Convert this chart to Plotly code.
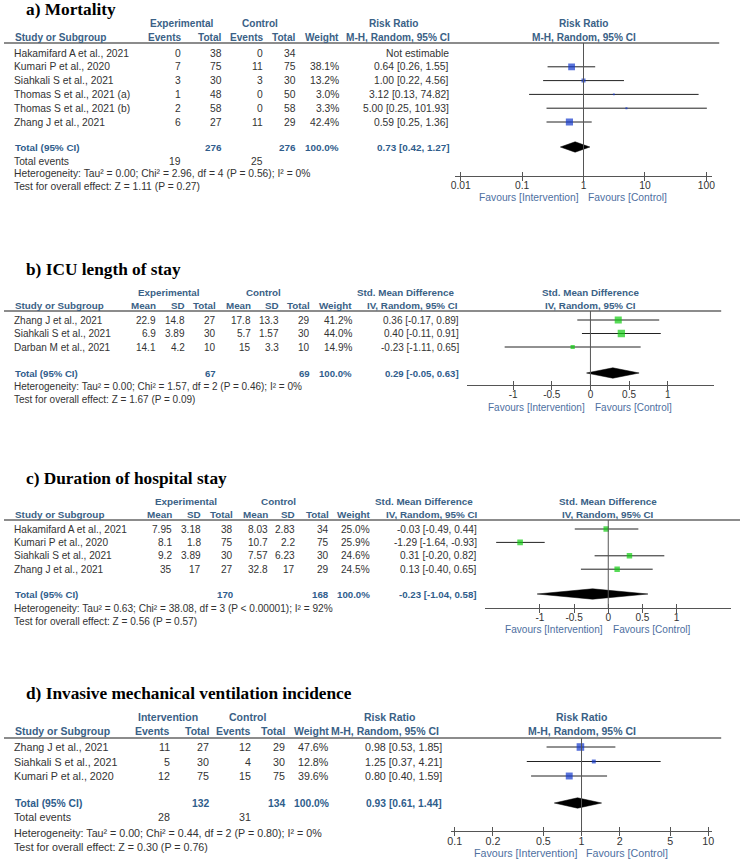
import math
import plotly.graph_objects as go

W, H = 745, 860          # target picture size (pixels)
OFF = 0                  # page margin is removed by the post script below
FW, FH = W - OFF, H - OFF

# ---------------- a) Mortality ----------------
a_studies = ["Hakamifard A et al., 2021", "Kumari P et al., 2020", "Siahkali S et al., 2021",
             "Thomas S et al., 2021 (a)", "Thomas S et al., 2021 (b)", "Zhang J et al., 2021"]
a_exp_events = [0, 7, 3, 1, 2, 6]
a_exp_total = [38, 75, 30, 48, 58, 27]
a_ctl_events = [0, 11, 3, 0, 0, 11]
a_ctl_total = [34, 75, 30, 50, 58, 29]
a_weight = [None, 38.1, 13.2, 3.0, 3.3, 42.4]
a_est = [None, 0.64, 1.00, 3.12, 5.00, 0.59]
a_lo = [None, 0.26, 0.22, 0.13, 0.25, 0.25]
a_hi = [None, 1.55, 4.56, 74.82, 101.93, 1.36]
a_total_n = [276, 276]
a_total_events = [19, 25]
a_pooled = [0.73, 0.42, 1.27]
a_het = "Heterogeneity: Tau² = 0.00; Chi² = 2.96, df = 4 (P = 0.56); I² = 0%"
a_test = "Test for overall effect: Z = 1.11 (P = 0.27)"
a_ticks = [0.01, 0.1, 1, 10, 100]
a_ticklabels = ["0.01", "0.1", "1", "10", "100"]

# ---------------- b) ICU length of stay ----------------
b_studies = ["Zhang J et al., 2021", "Siahkali S et al., 2021", "Darban M et al., 2021"]
b_exp_mean = [22.9, 6.9, 14.1]
b_exp_sd = [14.8, 3.89, 4.2]
b_exp_n = [27, 30, 10]
b_ctl_mean = [17.8, 5.7, 15]
b_ctl_sd = [13.3, 1.57, 3.3]
b_ctl_n = [29, 30, 10]
b_weight = [41.2, 44.0, 14.9]
b_est = [0.36, 0.40, -0.23]
b_lo = [-0.17, -0.11, -1.11]
b_hi = [0.89, 0.91, 0.65]
b_total_n = [67, 69]
b_pooled = [0.29, -0.05, 0.63]
b_het = "Heterogeneity: Tau² = 0.00; Chi² = 1.57, df = 2 (P = 0.46); I² = 0%"
b_test = "Test for overall effect: Z = 1.67 (P = 0.09)"
b_ticks = [-1, -0.5, 0, 0.5, 1]
b_ticklabels = ["-1", "-0.5", "0", "0.5", "1"]

# ---------------- c) Duration of hospital stay ----------------
c_studies = ["Hakamifard A et al., 2021", "Kumari P et al., 2020", "Siahkali S et al., 2021", "Zhang J et al., 2021"]
c_exp_mean = [7.95, 8.1, 9.2, 35]
c_exp_sd = [3.18, 1.8, 3.89, 17]
c_exp_n = [38, 75, 30, 27]
c_ctl_mean = [8.03, 10.7, 7.57, 32.8]
c_ctl_sd = [2.83, 2.2, 6.23, 17]
c_ctl_n = [34, 75, 30, 29]
c_weight = [25.0, 25.9, 24.6, 24.5]
c_est = [-0.03, -1.29, 0.31, 0.13]
c_lo = [-0.49, -1.64, -0.20, -0.40]
c_hi = [0.44, -0.93, 0.82, 0.65]
c_total_n = [170, 168]
c_pooled = [-0.23, -1.04, 0.58]
c_het = "Heterogeneity: Tau² = 0.63; Chi² = 38.08, df = 3 (P < 0.00001); I² = 92%"
c_test = "Test for overall effect: Z = 0.56 (P = 0.57)"
c_ticks = [-1, -0.5, 0, 0.5, 1]
c_ticklabels = ["-1", "-0.5", "0", "0.5", "1"]

# ---------------- d) Invasive mechanical ventilation incidence ----------------
d_studies = ["Zhang J et al., 2021", "Siahkali S et al., 2021", "Kumari P et al., 2020"]
d_exp_events = [11, 5, 12]
d_exp_total = [27, 30, 75]
d_ctl_events = [12, 4, 15]
d_ctl_total = [29, 30, 75]
d_weight = [47.6, 12.8, 39.6]
d_est = [0.98, 1.25, 0.80]
d_lo = [0.53, 0.37, 0.40]
d_hi = [1.85, 4.21, 1.59]
d_total_n = [132, 134]
d_total_events = [28, 31]
d_pooled = [0.93, 0.61, 1.44]
d_het = "Heterogeneity: Tau² = 0.00; Chi² = 0.44, df = 2 (P = 0.80); I² = 0%"
d_test = "Test for overall effect: Z = 0.30 (P = 0.76)"
d_ticks = [0.1, 0.2, 0.5, 1, 2, 5, 10]
d_ticklabels = ["0.1", "0.2", "0.5", "1", "2", "5", "10"]

fav_left = "Favours [Intervention]"
fav_right = "Favours [Control]"

# ---------------- styling ----------------
SANS = "Liberation Sans, Arial, sans-serif"
SERIF = "Liberation Serif, Times New Roman, serif"
HDR = "#3a6186"
TOT = "#2f5d8c"
TXT = "#333333"
FAV = "#4e6f9f"
LINE = "#555555"
BLUE = "#1238cc"
GREEN = "#11cc11"


def g(v):
    return "" if v is None else f"{v:g}"


def ci_text(e, l, h):
    return f"{e:.2f} [{l:.2f}, {h:.2f}]"


def w_text(w):
    return "" if w is None else f"{w:.1f}%"


def xp(px):
    """screen pixel x -> paper fraction"""
    return (px - OFF) / FW


def yp(py):
    """screen pixel y -> paper fraction (from bottom)"""
    return 1 - (py - OFF) / FH


panels = [
    dict(title="a) Mortality", title_y=9, fs=10.3, ax="x",
         groups=[("Experimental", 179.5), ("Control", 258), ("Risk Ratio", 393)],
         col_hdr=[("Events", 179), ("Total", 220), ("Events", 261), ("Total", 295), ("Weight", 338)],
         est_hdr_x=398, est_right=449, forest_c=585, measure="Risk Ratio", method="M-H, Random, 95% CI",
         hdr1_y=23, hdr2_y=37, line_y=43, line_x1=722, row0=53, step=13.8,
         total_y=147, events_y=161, het_y=173, test_y=186, axis_y=176, fav_y=197,
         null=1, log=True, dom=(454.8, 715.2), rng=(-2.1, 2.1), color=BLUE,
         studies=a_studies,
         cols=[[g(v) for v in a_exp_events], [g(v) for v in a_exp_total],
               [g(v) for v in a_ctl_events], [g(v) for v in a_ctl_total],
               [w_text(v) for v in a_weight]],
         weight=a_weight, est=a_est, lo=a_lo, hi=a_hi, pooled=a_pooled,
         total_cells=[(str(a_total_n[0]), 220), (str(a_total_n[1]), 295)], total_w=338,
         events=[(str(a_total_events[0]), 179), (str(a_total_events[1]), 261)],
         het=a_het, test=a_test, ticks=a_ticks, ticklabels=a_ticklabels),
    dict(title="b) ICU length of stay", title_y=269, fs=10.0, ax="x2",
         groups=[("Experimental", 167), ("Control", 262), ("Std. Mean Difference", 405)],
         col_hdr=[("Mean", 153), ("SD", 183), ("Total", 214), ("Mean", 249), ("SD", 278), ("Total", 309), ("Weight", 351)],
         est_hdr_x=412, est_right=459, forest_c=592, measure="Std. Mean Difference", method="IV, Random, 95% CI",
         hdr1_y=292, hdr2_y=305, line_y=311, line_x1=724, row0=320, step=13.5,
         total_y=373, events_y=None, het_y=386, test_y=399, axis_y=385, fav_y=407,
         null=0, log=False, dom=(467.2, 716.8), rng=(-1.6, 1.6), color=GREEN,
         studies=b_studies,
         cols=[[g(v) for v in b_exp_mean], [g(v) for v in b_exp_sd], [g(v) for v in b_exp_n],
               [g(v) for v in b_ctl_mean], [g(v) for v in b_ctl_sd], [g(v) for v in b_ctl_n],
               [w_text(v) for v in b_weight]],
         weight=b_weight, est=b_est, lo=b_lo, hi=b_hi, pooled=b_pooled,
         total_cells=[(str(b_total_n[0]), 214), (str(b_total_n[1]), 309)], total_w=351,
         events=None, het=b_het, test=b_test, ticks=b_ticks, ticklabels=b_ticklabels),
    dict(title="c) Duration of hospital stay", title_y=478, fs=10.1, ax="x3",
         groups=[("Experimental", 184), ("Control", 277), ("Std. Mean Difference", 424)],
         col_hdr=[("Mean", 170), ("SD", 199), ("Total", 231), ("Mean", 267), ("SD", 294), ("Total", 328), ("Weight", 369)],
         est_hdr_x=432, est_right=477, forest_c=610, measure="Std. Mean Difference", method="IV, Random, 95% CI",
         hdr1_y=501, hdr2_y=514, line_y=520, line_x1=743, row0=529, step=13.4,
         total_y=594, events_y=None, het_y=608, test_y=621, axis_y=608, fav_y=629,
         null=0, log=False, dom=(485.8, 734.2), rng=(-1.8, 1.8), color=GREEN,
         studies=c_studies,
         cols=[[g(v) for v in c_exp_mean], [g(v) for v in c_exp_sd], [g(v) for v in c_exp_n],
               [g(v) for v in c_ctl_mean], [g(v) for v in c_ctl_sd], [g(v) for v in c_ctl_n],
               [w_text(v) for v in c_weight]],
         weight=c_weight, est=c_est, lo=c_lo, hi=c_hi, pooled=c_pooled,
         total_cells=[(str(c_total_n[0]), 231), (str(c_total_n[1]), 328)], total_w=369,
         events=None, het=c_het, test=c_test, ticks=c_ticks, ticklabels=c_ticklabels),
    dict(title="d) Invasive mechanical ventilation incidence", title_y=693, fs=10.7, ax="x4",
         groups=[("Intervention", 166), ("Control", 246), ("Risk Ratio", 389)],
         col_hdr=[("Events", 168), ("Total", 207), ("Events", 249), ("Total", 284), ("Weight", 328)],
         est_hdr_x=385, est_right=442, forest_c=583, measure="Risk Ratio", method="M-H, Random, 95% CI",
         hdr1_y=717, hdr2_y=731, line_y=738, line_x1=724, row0=747, step=14.5,
         total_y=803, events_y=817, het_y=833, test_y=847, axis_y=831, fav_y=853,
         null=1, log=True, dom=(451.2, 714.8), rng=(-1.03, 1.03), color=BLUE,
         studies=d_studies,
         cols=[[g(v) for v in d_exp_events], [g(v) for v in d_exp_total],
               [g(v) for v in d_ctl_events], [g(v) for v in d_ctl_total],
               [w_text(v) for v in d_weight]],
         weight=d_weight, est=d_est, lo=d_lo, hi=d_hi, pooled=d_pooled,
         total_cells=[(str(d_total_n[0]), 207), (str(d_total_n[1]), 284)], total_w=328,
         events=[(str(d_total_events[0]), 168), (str(d_total_events[1]), 249)],
         het=d_het, test=d_test, ticks=d_ticks, ticklabels=d_ticklabels),
]

fig = go.Figure()
annotations = []
shapes = []
layout_axes = {}


def text(x, y, s, anchor="right", size=10.3, color=TXT, bold=False, family=SANS):
    if bold:
        s = f"<b>{s}</b>"
    annotations.append(dict(x=xp(x), y=y, xref="paper", yref="y", text=s, showarrow=False,
                            xanchor=anchor, yanchor="middle", borderpad=0, borderwidth=0,
                            font=dict(family=family, size=size, color=color)))


for i, P in enumerate(panels):
    fs = P["fs"]
    hs = fs - 0.2
    ts = fs - 0.4
    ax = P["ax"]
    # title
    text(22, P["title_y"], P["title"], anchor="left", size=17.3, color="#000000", bold=True, family=SERIF)
    # group headers
    for lab, cx in P["groups"]:
        text(cx, P["hdr1_y"], lab, anchor="center", size=hs, color=HDR, bold=True)
    text(P["forest_c"], P["hdr1_y"], P["measure"], anchor="center", size=hs, color=HDR, bold=True)
    # column headers
    text(11, P["hdr2_y"], "Study or Subgroup", anchor="left", size=hs, color=HDR, bold=True)
    for lab, rx in P["col_hdr"]:
        text(rx, P["hdr2_y"], lab, anchor="right", size=hs, color=HDR, bold=True)
    text(P["est_hdr_x"], P["hdr2_y"], P["method"], anchor="center", size=hs, color=HDR, bold=True)
    text(P["forest_c"], P["hdr2_y"], P["method"], anchor="center", size=hs, color=HDR, bold=True)
    # header rule
    shapes.append(dict(type="line", xref="paper", yref="y", x0=0, x1=xp(P["line_x1"]),
                       y0=P["line_y"], y1=P["line_y"], line=dict(color="#666666", width=1.3)))
    # study rows
    rows_y = [P["row0"] + k * P["step"] for k in range(len(P["studies"]))]
    col_rights = [rx for _, rx in P["col_hdr"]]
    for k, name in enumerate(P["studies"]):
        y = rows_y[k]
        text(10, y, name, anchor="left", size=fs)
        for c, rx in enumerate(col_rights):
            text(rx, y, P["cols"][c][k], anchor="right", size=fs)
        if P["est"][k] is None:
            text(P["est_right"], y, "Not estimable", anchor="right", size=fs)
        else:
            text(P["est_right"], y, ci_text(P["est"][k], P["lo"][k], P["hi"][k]), anchor="right", size=fs)
    # total row
    ty = P["total_y"]
    text(11, ty, "Total (95% CI)", anchor="left", size=ts, color=TOT, bold=True)
    for s, rx in P["total_cells"]:
        text(rx, ty, s, anchor="right", size=ts, color=TOT, bold=True)
    text(P["total_w"], ty, "100.0%", anchor="right", size=ts, color=TOT, bold=True)
    text(P["est_right"], ty, ci_text(*P["pooled"]), anchor="right", size=ts, color=TOT, bold=True)
    # footer
    if P["events"] is not None:
        text(10, P["events_y"], "Total events", anchor="left", size=fs)
        for s, rx in P["events"]:
            text(rx, P["events_y"], s, anchor="right", size=fs)
    text(10, P["het_y"], P["het"], anchor="left", size=fs)
    text(10, P["test_y"], P["test"], anchor="left", size=fs)
    # favours
    text(P["forest_c"] - 5, P["fav_y"], fav_left, anchor="right", size=fs, color=FAV)
    text(P["forest_c"] + 5, P["fav_y"], fav_right, anchor="left", size=fs, color=FAV)

    # ---- forest plot ----
    for k in range(len(P["studies"])):
        if P["est"][k] is None:
            continue
        fig.add_trace(go.Scatter(x=[P["lo"][k], P["hi"][k]], y=[rows_y[k], rows_y[k]], mode="lines",
                                 line=dict(color="#222222", width=1), xaxis=ax, yaxis="y",
                                 hoverinfo="skip", showlegend=False))
    sx, sy, ss = [], [], []
    for k in range(len(P["studies"])):
        if P["est"][k] is None:
            continue
        sx.append(P["est"][k])
        sy.append(rows_y[k])
        ss.append(1.1 * math.sqrt(P["weight"][k]))
    fig.add_trace(go.Scatter(x=sx, y=sy, mode="markers", xaxis=ax, yaxis="y",
                             marker=dict(symbol="square", size=ss, color=P["color"], line=dict(width=0)),
                             hoverinfo="skip", showlegend=False))
    e, l, h = P["pooled"]
    dh = 5.2
    fig.add_trace(go.Scatter(x=[l, e, h, e, l], y=[ty, ty - dh, ty, ty + dh, ty], mode="lines",
                             fill="toself", fillcolor="#000000", line=dict(color="#000000", width=0.5),
                             xaxis=ax, yaxis="y", hoverinfo="skip", showlegend=False))
    # null line
    shapes.append(dict(type="line", xref=ax, yref="y", x0=P["null"], x1=P["null"],
                       y0=P["line_y"], y1=P["axis_y"], line=dict(color=LINE, width=1)))

    axis_key = "xaxis" if ax == "x" else "xaxis" + ax[1:]
    common = dict(domain=[xp(P["dom"][0]), xp(P["dom"][1])], range=list(P["rng"]),
                  type="log" if P["log"] else "linear", anchor="free", position=yp(P["axis_y"]),
                  showgrid=False, zeroline=False, tickvals=P["ticks"], ticktext=P["ticklabels"],
                  tickcolor=LINE, tickwidth=1, ticklen=4, fixedrange=True)
    layout_axes[axis_key] = dict(common, showline=True, linecolor=LINE, linewidth=1, ticks="inside",
                                 tickfont=dict(family=SANS, size=fs, color=TXT))
    ov = "x" + str(5 + i)
    layout_axes["xaxis" + str(5 + i)] = dict(common, overlaying=ax, ticks="outside", showline=False,
                                             showticklabels=False)
    fig.add_trace(go.Scatter(x=[P["null"]], y=[-50], mode="markers", marker=dict(opacity=0),
                             xaxis=ov, yaxis="y", hoverinfo="skip", showlegend=False))

fig.update_layout(
    width=FW, height=FH, margin=dict(l=0, r=0, t=0, b=0),
    paper_bgcolor="white", plot_bgcolor="rgba(0,0,0,0)",
    yaxis=dict(domain=[0, 1], range=[H, OFF], visible=False, fixedrange=True),
    annotations=annotations, shapes=shapes, showlegend=False, hovermode=False,
    **layout_axes,
)

fig.write_html("out.html", config={"displayModeBar": False, "staticPlot": True},
               post_script="document.body.style.margin='0px';")
